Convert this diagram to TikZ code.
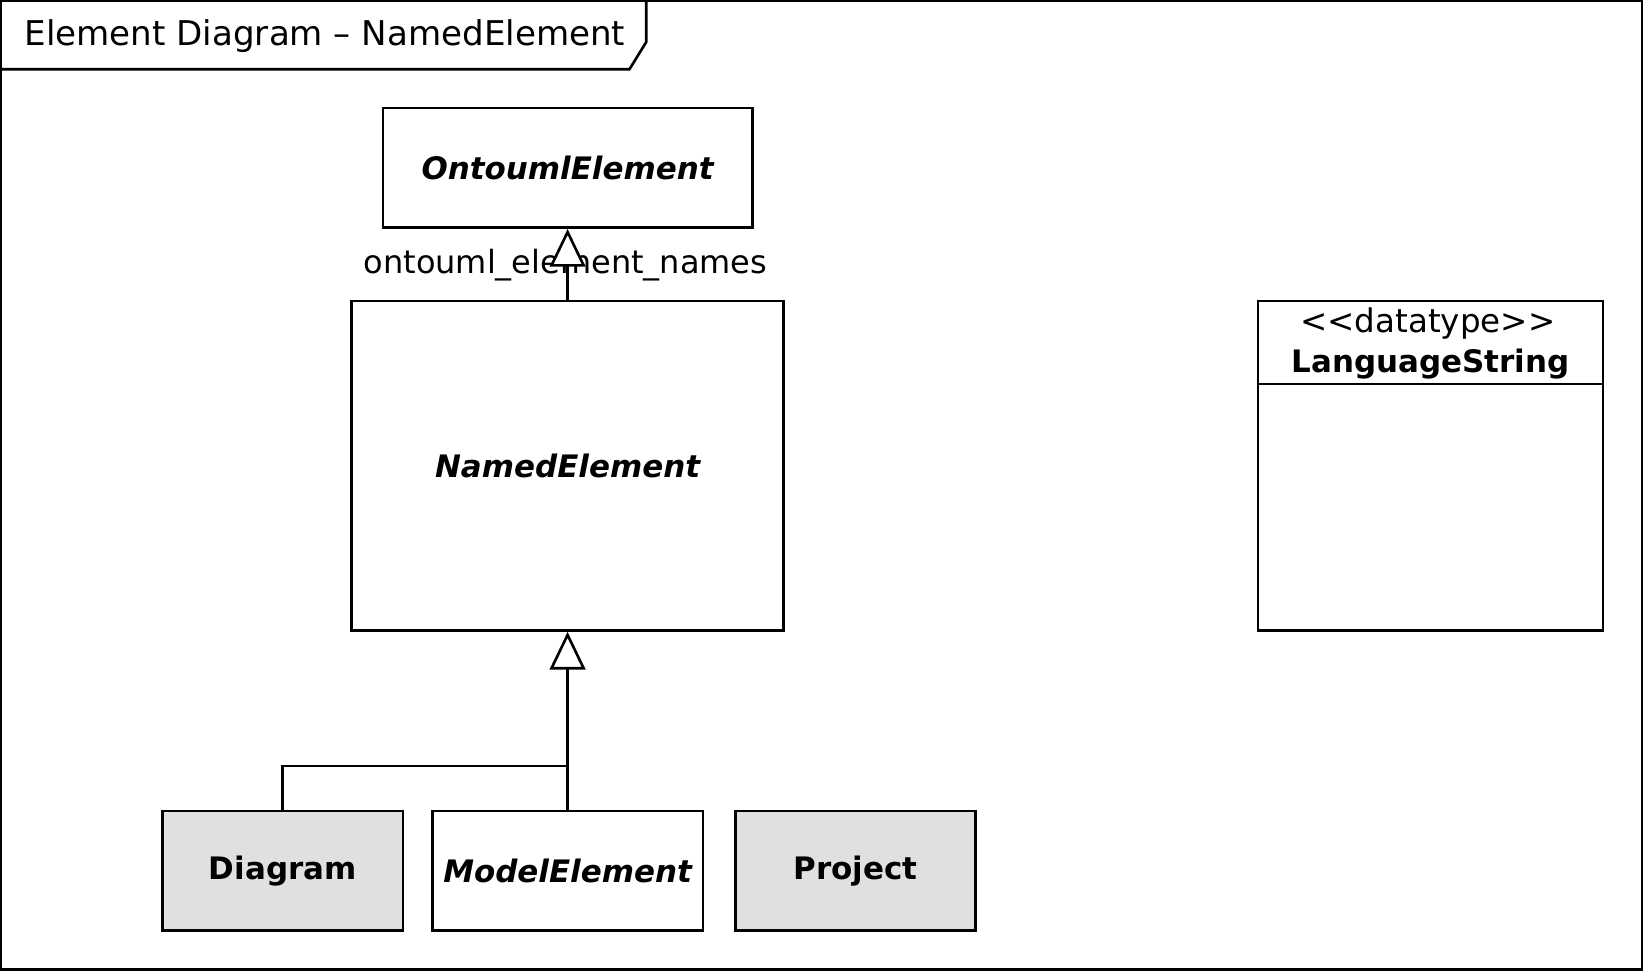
\documentclass[tikz,border=0pt]{standalone}
\usepackage{fontspec}
\setmainfont{DejaVu Sans}
\usetikzlibrary{arrows.meta}
\definecolor{boxgray}{HTML}{E0E0E0}

\begin{document}
\begin{tikzpicture}[x=1pt,y=-1pt,line width=2.5pt,
        txt/.style={font=\fontsize{32.5}{38}\selectfont},
        classbox/.style={draw,line width=2.5pt,inner sep=0pt,font=\fontsize{29.5}{36}\selectfont\bfseries},
        gen/.style={-{Triangle[fill=white,length=36pt,width=34pt]}}]
        \useasboundingbox (0,0) rectangle (1567,926);

        % frame and title tab
        \draw (1,1) rectangle (1565,924);
        \draw (1,66) -- (600,66) -- (616,40) -- (616,1);
        \node (title) at (19,34) [txt,anchor=west] {Element Diagram – NamedElement};

        \node (onto) at (541,160) [classbox,minimum width=352pt,minimum height=114pt] {\itshape OntoumlElement};
        \node (named) at (541,444) [classbox,minimum width=412pt,minimum height=314pt] {\itshape NamedElement};
        \node (names) at (539,253) [txt,font=\fontsize{30.5}{36}\selectfont] {ontouml\_element\_names};

        \node (diagram) at (269.5,830) [classbox,fill=boxgray,minimum width=229pt,minimum height=114pt] {Diagram};
        \node (model) at (541,830) [classbox,minimum width=258pt,minimum height=114pt] {\itshape ModelElement};
        \node (project) at (815.5,830) [classbox,fill=boxgray,minimum width=229pt,minimum height=114pt] {Project};

        \node (langstr) at (1363.5,444) [classbox,minimum width=329pt,minimum height=314pt] {};
        \draw (langstr.west |- 0,366) -- (langstr.east |- 0,366);
        \node (stereo) at (1361,308) [txt,font=\fontsize{31}{36}\selectfont] {<\kern0pt<datatype>\kern0pt>};
        \node (lsname) at (1363.5,347) [classbox,draw=none] {LanguageString};

        \coordinate (join) at (541,730);
        \draw[gen] (named) -- (onto);
        \draw[gen] (model) -- (named);
        \draw (diagram.north) |- (join);
    \end{tikzpicture}
\end{document}
